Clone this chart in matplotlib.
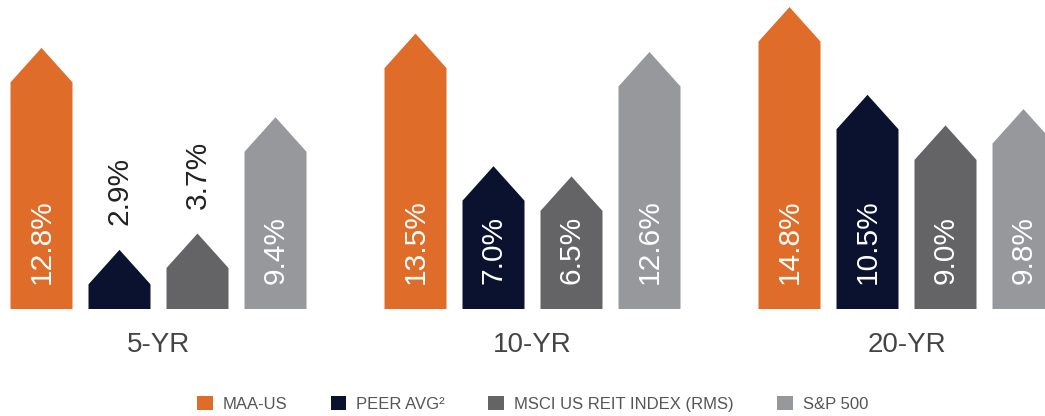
import matplotlib
matplotlib.use("Agg")
import matplotlib.pyplot as plt
from matplotlib.patches import Polygon, Patch
import numpy as np

# data
periods = ["5-YR", "10-YR", "20-YR"]
series = ["MAA-US", "PEER AVG\u00b2", "MSCI US REIT INDEX (RMS)", "S&P 500"]
maa = [12.8, 13.5, 14.8]
peer = [2.9, 7.0, 10.5]
msci = [3.7, 6.5, 9.0]
sp500 = [9.4, 12.6, 9.8]

colors = ["#E06C2A", "#0A1230", "#646466", "#97989C"]
values = [maa, peer, msci, sp500]

W, H = 1045, 416
base_px = 309          # bar baseline, pixels from top
px_per_unit = 20.4     # vertical scale
group_step = 374
group_x0 = 158.5
pitch = 78
bar_w = 62
head = 34.5 / px_per_unit

fig = plt.figure(figsize=(W / 100, H / 100), dpi=100)
ax = fig.add_axes([0, (H - base_px) / H, 1, base_px / H])
ax.set_xlim(0, W)
ax.set_ylim(0, base_px / px_per_unit)
ax.axis("off")

val_font = dict(family="Liberation Sans", fontsize=21.5)

for g, period in enumerate(periods):
    gx = group_x0 + g * group_step
    for i, (vals, col) in enumerate(zip(values, colors)):
        v = vals[g]
        cx = gx + (i - 1.5) * pitch
        hw = bar_w / 2
        poly = Polygon([(cx - hw, 0), (cx + hw, 0), (cx + hw, v - head),
                        (cx, v), (cx - hw, v - head)],
                       closed=True, facecolor=col, edgecolor="none")
        ax.add_patch(poly)
        label = f"{v:.1f}%"
        if v > 5:
            ax.text(cx, 1.25, label, rotation=90, ha="center", va="bottom",
                    color="white", **val_font)
        else:
            ax.text(cx, v + 1.2, label, rotation=90, ha="center", va="bottom",
                    color="#222222", **val_font)
    fig.text(gx / W, 1 - 345 / H, period, ha="center", va="center",
             fontsize=20, color="#444444", family="Liberation Sans")

handles = [Patch(facecolor=c, edgecolor="none") for c in colors]
leg = fig.legend(handles, series, loc="center", bbox_to_anchor=(532.5 / W, 1 - 404 / H),
                 ncol=4, frameon=False, handlelength=0.95, handleheight=0.95,
                 handletextpad=0.6, columnspacing=2.6,
                 prop=dict(family="Liberation Sans", size=12))
for t in leg.get_texts():
    t.set_color("#555555")

fig.savefig("out.png", dpi=100)
